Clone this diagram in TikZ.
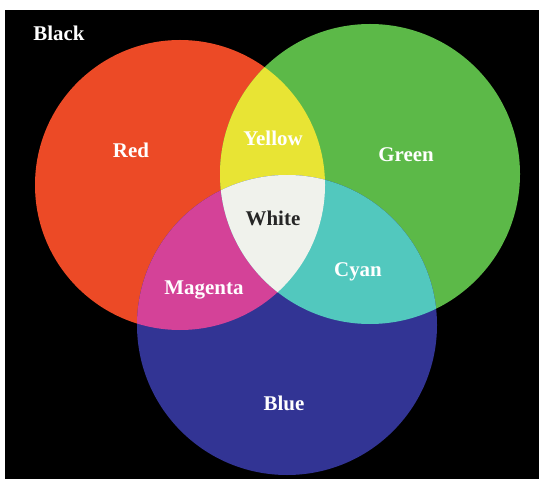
\documentclass[tikz,border=0pt]{standalone}
\usepackage{fontspec}
\setmainfont{Liberation Serif}
\usepackage{xcolor}
\usepackage{tikz}
\usetikzlibrary{positioning}
\definecolor{lightred}{RGB}{236,74,38}
\definecolor{lightgreen}{RGB}{92,185,72}
\definecolor{lightblue}{RGB}{50,52,148}
\definecolor{mixyellow}{RGB}{232,228,52}
\definecolor{mixmagenta}{RGB}{212,66,152}
\definecolor{mixcyan}{RGB}{82,200,190}
\definecolor{mixwhite}{RGB}{240,242,236}

\begin{document}
\begin{tikzpicture}[x=1bp, y=-1bp,
    lbl/.style={font=\fontsize{21}{24}\selectfont\bfseries, text=white, inner sep=0pt}]
    \useasboundingbox (0,0) rectangle (540,479);
    \fill[black] (5,10) rectangle (539,479);
    \coordinate (rc) at (180,185);
    \coordinate (gc) at (370,174);
    \coordinate (bc) at (287,325);
    % primary lights
    \fill[lightred] (rc) circle[radius=145];
    \fill[lightgreen] (gc) circle[radius=150];
    \fill[lightblue] (bc) circle[radius=150];
    % two lights
    \begin{scope}
      \clip (rc) circle[radius=145];
      \fill[mixyellow] (gc) circle[radius=150];
      \fill[mixmagenta] (bc) circle[radius=150];
    \end{scope}
    \begin{scope}
      \clip (gc) circle[radius=150];
      \fill[mixcyan] (bc) circle[radius=150];
    \end{scope}
    % all three
    \begin{scope}
      \clip (rc) circle[radius=145];
      \clip (gc) circle[radius=150];
      \fill[mixwhite] (bc) circle[radius=150];
    \end{scope}
    \node[lbl] (black) at (59,33) {Black};
    \node[lbl] (red) at (131,150) {Red};
    \node[lbl] (yellow) at (273,138) {Yellow};
    \node[lbl] (green) at (406,155) {Green};
    \node[lbl, text=black!85] (white) at (273,218) {White};
    \node[lbl] (cyan) at (358,272) {Cyan};
    \node[lbl] (magenta) at (204,290) {Magenta};
    \node[lbl] (blue) at (284,403) {Blue};
\end{tikzpicture}
\end{document}
